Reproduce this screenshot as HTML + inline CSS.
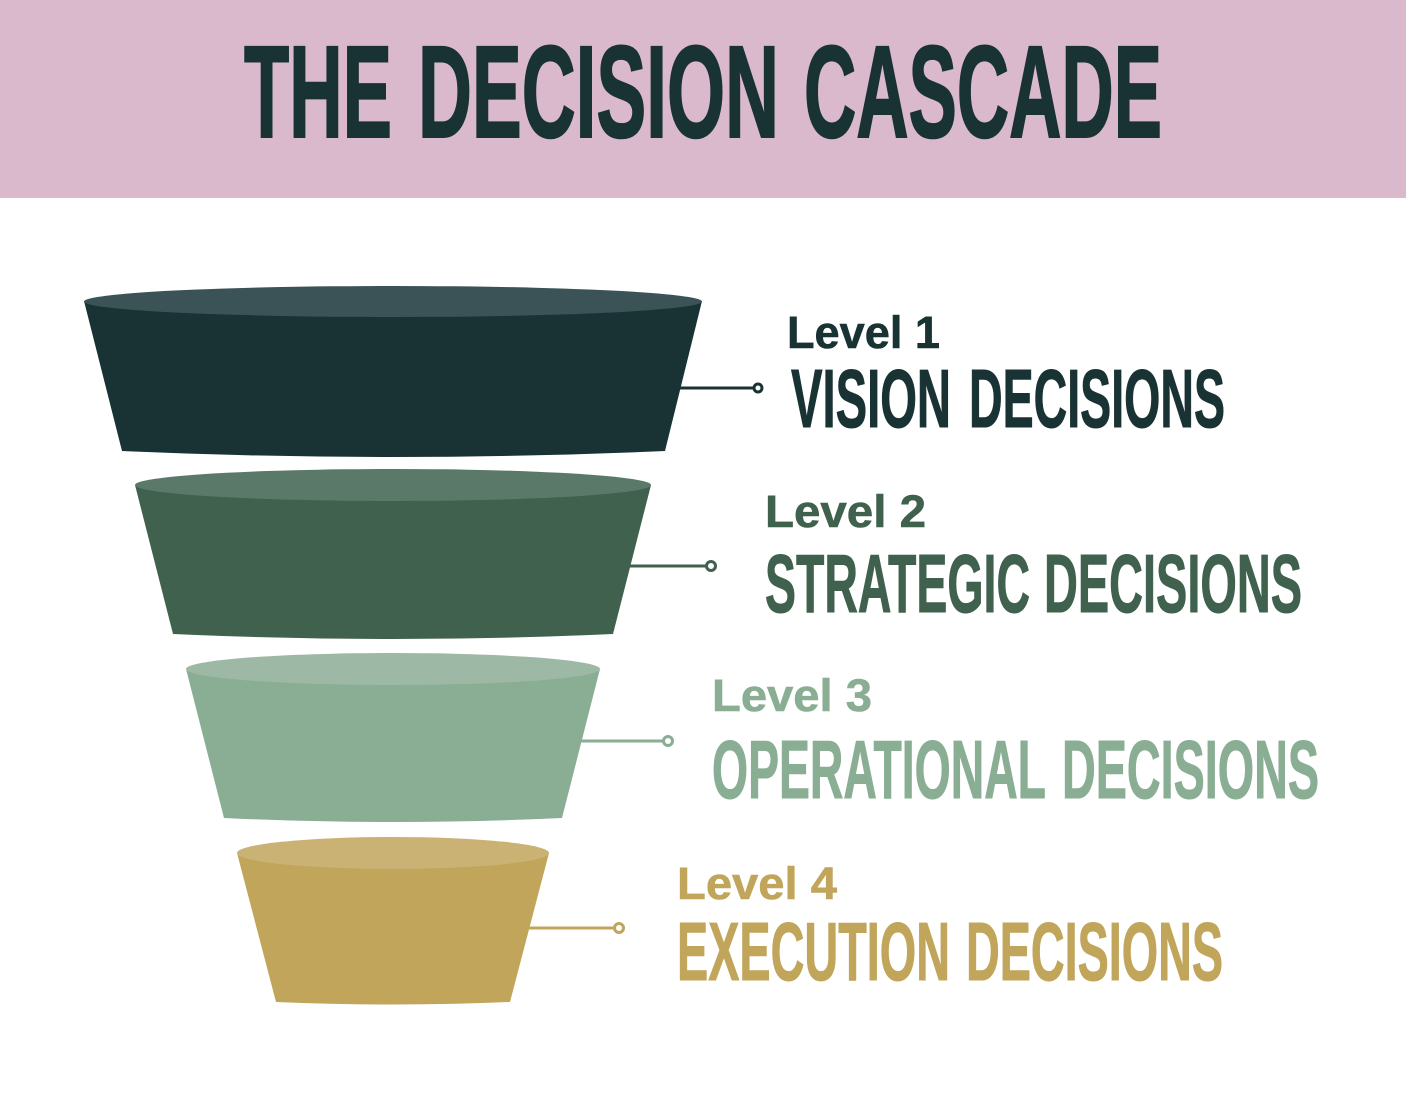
<!DOCTYPE html>
<html lang="en">
<head>
<meta charset="utf-8">
<title>The Decision Cascade</title>
<style>
html,body{margin:0;padding:0;background:#fff;width:1406px;height:1094px;overflow:hidden}
svg{display:block}
text{font-family:"Liberation Sans",sans-serif;font-weight:700}
.h{font-size:131px;stroke-width:2px}
.s{font-size:83px;stroke-width:1px}
.l{font-size:45px;stroke-width:.6px}
.a{fill:#193233;stroke:#193233}
.b{fill:#3f614e;stroke:#3f614e}
.c{fill:#8aae94;stroke:#8aae94}
.d{fill:#c0a55b;stroke:#c0a55b}
</style>
</head>
<body>
<svg width="1406" height="1094" viewBox="0 0 1406 1094" xmlns="http://www.w3.org/2000/svg">
<rect width="1406" height="1094" fill="#fff"/>
<rect width="1406" height="198" fill="#d9b9cb"/>
<text class="h a" x="244" y="137" textLength="148" lengthAdjust="spacingAndGlyphs">THE</text>
<text class="h a" x="418" y="137" textLength="361" lengthAdjust="spacingAndGlyphs">DECISION</text>
<text class="h a" x="804" y="137" textLength="358" lengthAdjust="spacingAndGlyphs">CASCADE</text>

<path d="M84 301L122 451Q393 463 665 451L702 301Z" fill="#193233"/>
<ellipse cx="393" cy="301.500" rx="309" ry="15.500" fill="#3b5356"/>
<path d="M680 388H754" stroke="#193233" stroke-width="3"/>
<circle cx="758" cy="388" r="4" fill="#fff" stroke="#193233" stroke-width="3"/>
<text class="l a" x="787" y="348" textLength="153" lengthAdjust="spacingAndGlyphs">Level 1</text>
<text class="s a" x="791" y="427" textLength="160" lengthAdjust="spacingAndGlyphs">VISION</text>
<text class="s a" x="969" y="427" textLength="256" lengthAdjust="spacingAndGlyphs">DECISIONS</text>

<path d="M135 485L173 634Q393 644 613 634L651 485Z" fill="#3f614e"/>
<ellipse cx="393" cy="485" rx="258" ry="16" fill="#5b7969"/>
<path d="M630 566H706" stroke="#3f614e" stroke-width="3"/>
<circle cx="711" cy="566" r="4.500" fill="#fff" stroke="#3f614e" stroke-width="3"/>
<text class="l b" x="765" y="527" textLength="161" lengthAdjust="spacingAndGlyphs">Level 2</text>
<text class="s b" x="765" y="612" textLength="265" lengthAdjust="spacingAndGlyphs">STRATEGIC</text>
<text class="s b" x="1044" y="612" textLength="258" lengthAdjust="spacingAndGlyphs">DECISIONS</text>

<path d="M186 669L224 818Q393 826 562 818L600 669Z" fill="#8aae94"/>
<ellipse cx="393" cy="669" rx="207" ry="16" fill="#9db9a5"/>
<path d="M581 741H664" stroke="#8aae94" stroke-width="3"/>
<circle cx="668" cy="741" r="4.500" fill="#fff" stroke="#8aae94" stroke-width="3"/>
<text class="l c" x="712" y="711" textLength="160" lengthAdjust="spacingAndGlyphs">Level 3</text>
<text class="s c" x="712" y="798" textLength="334" lengthAdjust="spacingAndGlyphs">OPERATIONAL</text>
<text class="s c" x="1062" y="798" textLength="257" lengthAdjust="spacingAndGlyphs">DECISIONS</text>

<path d="M237 853L276 1002Q393 1007 510 1002L549 853Z" fill="#c0a55b"/>
<ellipse cx="393" cy="853" rx="156" ry="16" fill="#c9b273"/>
<path d="M529 928H615" stroke="#c0a55b" stroke-width="3"/>
<circle cx="619" cy="928" r="4.500" fill="#fff" stroke="#c0a55b" stroke-width="3"/>
<text class="l d" x="677" y="899" textLength="160" lengthAdjust="spacingAndGlyphs">Level 4</text>
<text class="s d" x="677" y="980" textLength="273" lengthAdjust="spacingAndGlyphs">EXECUTION</text>
<text class="s d" x="966" y="980" textLength="257" lengthAdjust="spacingAndGlyphs">DECISIONS</text>
</svg>
</body>
</html>
